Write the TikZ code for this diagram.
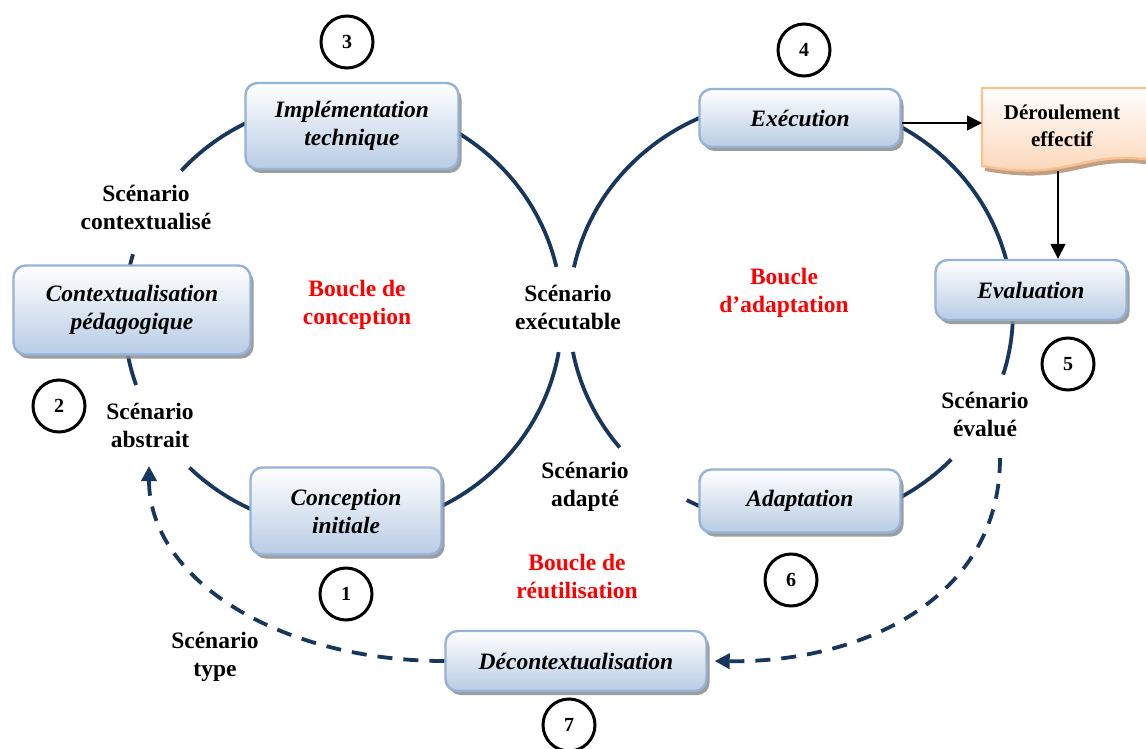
\documentclass[tikz,border=0pt]{standalone}
\usepackage{fontspec}
\setmainfont{Liberation Serif}
\usetikzlibrary{arrows.meta,shadows,calc}
\definecolor{navy}{RGB}{23,55,94}
\definecolor{boxedge}{RGB}{149,179,215}
\definecolor{boxfoot}{RGB}{184,204,228}
\definecolor{docedge}{RGB}{250,192,144}
\definecolor{docfoot}{RGB}{251,210,176}
\definecolor{docshade}{RGB}{190,160,135}

\begin{document}
\begin{tikzpicture}[x=1pt,y=-1pt,
  stagebox/.style={draw=boxedge, line width=2.4pt, rounded corners=12pt,
    top color=white, bottom color=boxfoot,
    drop shadow={shadow xshift=3pt, shadow yshift=-4pt, fill=black!45, opacity=0.85},
    align=center, inner sep=0pt,
    font=\fontsize{23.5}{28}\selectfont\bfseries\itshape},
  lbl/.style={align=center, inner sep=0pt, font=\fontsize{23.5}{28}\selectfont\bfseries},
  looplbl/.style={lbl, text=red},
  num/.style={circle, draw=black, line width=3pt, minimum size=52pt, inner sep=0pt,
    font=\fontsize{20}{24}\selectfont\bfseries},
  loopline/.style={draw=navy, line width=3.8pt},
  dasharrow/.style={draw=navy, line width=3.8pt, dash pattern=on 15pt off 11pt,
    -{Triangle[length=15pt,width=15pt]}},
  blackarrow/.style={draw=black, line width=1.4pt, -{Triangle[length=15pt,width=15pt]}}
]
\useasboundingbox (0,0) rectangle (1146,749);
\clip (0,0) rectangle (1146,749);
\fill[white] (0,0) rectangle (1146,749);

% centres of the two loops
\coordinate (lc) at (343,315);
\coordinate (rc) at (791,312);

% design loop (left)
\draw[loopline] ($(lc)+(222.4:219 and 214)$) arc[start angle=222.4, end angle=347, x radius=219, y radius=214];
\draw[loopline] ($(lc)+(160.9:219 and 214)$) arc[start angle=160.9, end angle=196.5, x radius=219, y radius=214];
\draw[loopline] ($(lc)+(10:219 and 214)$) arc[start angle=10, end angle=134.5, x radius=219, y radius=214];

% adaptation loop (right)
\draw[loopline] ($(rc)+(-167.9:222 and 213)$) arc[start angle=-167.9, end angle=17.1, x radius=222, y radius=213];
\draw[loopline] ($(rc)+(140.5:222 and 213)$) arc[start angle=140.5, end angle=169.2, x radius=222, y radius=213];
\draw[loopline] ($(rc)+(43.8:222 and 213)$) arc[start angle=43.8, end angle=118, x radius=222, y radius=213];

% stages
\node[stagebox, minimum width=213pt, minimum height=86pt] (impl) at (352,126) {Implémentation\\technique};
\node[stagebox, minimum width=201pt, minimum height=58pt] (exec) at (800,118) {Exécution};
\node[stagebox, minimum width=191pt, minimum height=60pt] (eval) at (1031,290) {Evaluation};
\node[stagebox, minimum width=237pt, minimum height=89pt] (contx) at (132,310) {Contextualisation\\pédagogique};
\node[stagebox, minimum width=191pt, minimum height=87pt] (conc) at (346,511) {Conception\\initiale};
\node[stagebox, minimum width=201pt, minimum height=63pt] (adapt) at (800,501) {Adaptation};
\node[stagebox, minimum width=261pt, minimum height=60pt] (decont) at (576,661) {Décontextualisation};

% document shape for the actual run
\fill[docshade] (985,100) -- (1152,100) -- (1152,165) .. controls (1082,155) and (1072,187) .. (985,171) -- cycle;
\filldraw[draw=docedge, line width=2.4pt, top color=white, bottom color=docfoot]
  (982,88) -- (1152,88) -- (1152,160) .. controls (1080,150) and (1070,182) .. (982,166) -- cycle;
\node[lbl, font=\fontsize{21}{27}\selectfont\bfseries] (derou) at (1062,126) {Déroulement\\effectif};
\coordinate (docin) at (982,123);
\coordinate (docout) at (1058,171);

\draw[blackarrow] ([yshift=-5pt]exec.east) -- (docin);
\draw[blackarrow] (docout) -- (docout |- eval.north);

% reuse loop
\coordinate (abstip) at (149,466);
\coordinate (evdash) at (1000,458);
\draw[dasharrow] (decont.west) .. controls (280,661) and (149,580) .. (abstip);
\draw[dasharrow] (evdash) .. controls (1000,600) and (860,663) .. ([xshift=7pt]decont.east);

% scenario labels
\node[lbl] (sctx) at (146,207) {Scénario\\contextualisé};
\node[lbl] (sabs) at (150,425) {Scénario\\abstrait};
\node[lbl] (sexe) at (568,307) {Scénario\\exécutable};
\node[lbl] (sadp) at (585,487) {Scénario\\adapté};
\node[lbl] (sevl) at (985,414) {Scénario\\évalué};
\node[lbl] (styp) at (215,657) {Scénario\\type};

% loop names
\node[looplbl] (bconc) at (357,305) {Boucle de\\conception};
\node[looplbl] (badap) at (784,293) {Boucle\\d’adaptation};
\node[looplbl] (breut) at (577,576) {Boucle de\\réutilisation};

% step numbers
\node[num] (n1) at (346,594) {1};
\node[num] (n2) at (59,406) {2};
\node[num] (n3) at (347,42) {3};
\node[num] (n4) at (804,50) {4};
\node[num] (n5) at (1068,364) {5};
\node[num] (n6) at (791,580) {6};
\node[num] (n7) at (569,725) {7};
\end{tikzpicture}
\end{document}
